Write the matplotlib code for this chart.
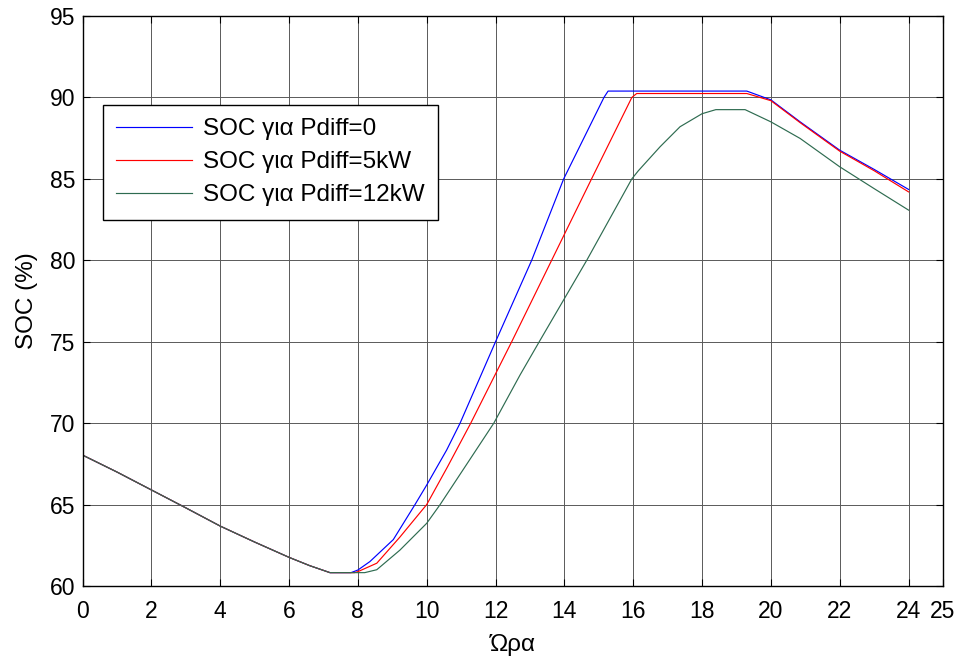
import matplotlib
matplotlib.use("Agg")
import matplotlib.pyplot as plt

plt.rcParams['font.family'] = ['Liberation Sans', 'DejaVu Sans']

# Common discharge segment (identical for all three series)
t_common = [0, 1, 2, 3, 4, 5, 6, 6.6, 7.19]
soc_common = [68.04, 67.0, 65.9, 64.8, 63.68, 62.7, 61.76, 61.25, 60.82]

# SOC for Pdiff = 0
t_p0 = [7.8, 8.0, 8.35, 9.03, 9.66, 10.0, 10.58, 10.97, 12.0, 13.05, 13.98,
        15.15, 15.27, 19.3, 20.0, 20.85, 22.0, 23.0, 24.0]
soc_p0 = [60.82, 60.98, 61.5, 62.85, 65.0, 66.2, 68.35, 70.0, 75.0, 80.0, 85.0,
          90.0, 90.39, 90.39, 89.85, 88.5, 86.76, 85.58, 84.35]

# SOC for Pdiff = 5kW
t_p5 = [7.9, 8.0, 8.55, 9.22, 10.0, 10.6, 11.28, 12.47, 13.63, 14.79, 15.96, 16.1,
        19.3, 20.0, 20.85, 22.0, 23.0, 24.0]
soc_p5 = [60.82, 60.88, 61.4, 63.0, 65.0, 67.3, 70.0, 75.0, 80.0, 85.0, 90.0, 90.24,
          90.24, 89.8, 88.45, 86.7, 85.5, 84.2]

# SOC for Pdiff = 12kW
t_p12 = [8.2, 8.55, 9.22, 10.0, 10.39, 11.95, 12.71, 13.27, 14.65, 15.96, 16.15,
         16.78, 17.36, 18.0, 18.4, 19.25, 20.0, 20.85, 22.0, 23.0, 24.0]
soc_p12 = [60.82, 61.0, 62.2, 63.85, 65.0, 70.0, 72.95, 75.0, 80.0, 85.0, 85.5,
           86.97, 88.2, 89.0, 89.25, 89.25, 88.5, 87.48, 85.74, 84.4, 83.08]

labels = ['SOC για Pdiff=0', 'SOC για Pdiff=5kW', 'SOC για Pdiff=12kW']
colors = ['#0000ff', '#ff0000', '#2e6b50']
x_ticks = [0, 2, 4, 6, 8, 10, 12, 14, 16, 18, 20, 22, 24, 25]
y_ticks = [60, 65, 70, 75, 80, 85, 90, 95]

fig = plt.figure(figsize=(9.58, 6.57), dpi=100)
ax = fig.add_axes([82.5 / 958, 71 / 657, 860.5 / 958, 570 / 657])

series = [(t_p0, soc_p0), (t_p5, soc_p5), (t_p12, soc_p12)]
for (tt, ss), lab, col in zip(series, labels, colors):
    ax.plot(t_common + tt, soc_common + ss, color=col, lw=0.85, label=lab)

ax.set_xlim(0, 25)
ax.set_ylim(60, 95)
ax.set_xticks(x_ticks)
ax.set_yticks(y_ticks)
ax.grid(True, color='0.35', lw=0.7)
ax.set_axisbelow(True)
ax.tick_params(direction='in', length=5, width=0.8, labelsize=16.5,
               top=True, right=True, colors='black')
ax.tick_params(axis='x', pad=10)
ax.tick_params(axis='y', pad=5)
for sp in ax.spines.values():
    sp.set_linewidth(1.0)
    sp.set_color('black')

ax.set_xlabel('Ώρα', fontsize=17.5)
ax.set_ylabel('SOC (%)', fontsize=17.5)
ax.xaxis.set_label_coords(0.5, -(645 - 586) / 570)
ax.xaxis.label.set_va('center')
ax.yaxis.set_label_coords((27 - 82.5) / 860.5, 0.5)
ax.yaxis.label.set_va('center')

leg = ax.legend(loc='upper left', bbox_to_anchor=((103 - 82.5) / 860.5, (586 - 105) / 570),
                borderaxespad=0, fontsize=17.5, frameon=True, fancybox=False,
                edgecolor='black', handlelength=3.1, handletextpad=0.45,
                labelspacing=0.45, borderpad=0.55, framealpha=1)
leg.get_frame().set_linewidth(1.0)

fig.savefig('out.png', dpi=100)
